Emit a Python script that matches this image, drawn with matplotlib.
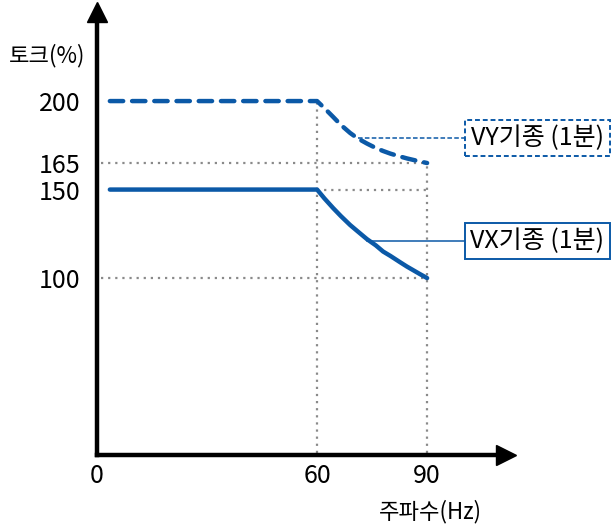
import matplotlib
matplotlib.use("Agg")
import matplotlib.pyplot as plt
from matplotlib.patches import Rectangle

# data
freq_vx = [3.5, 60, 62, 64.4, 66.5, 69, 71, 73.6, 76, 78, 80, 82.6, 84.5, 88, 90]
torque_vx = [150, 150, 145, 139.5, 135, 130, 126.5, 122, 118.5, 115, 112.5,
             109, 106.5, 102.3, 100]
freq_vy = [3.5, 60, 62, 64.4, 66.5, 69, 71, 73.6, 76, 78, 80, 82.6, 84.5, 88, 90]
torque_vy = [200, 200, 196, 191, 186.5, 182, 179, 176, 173.5, 171.8, 170.3,
             168.7, 167.6, 165.9, 165]

x_ticks = [0, 60, 90]
x_tick_labels = ["0", "60", "90"]
y_ticks = [100, 150, 165, 200]
y_tick_labels = ["100", "150", "165", "200"]

BLUE = "#0b59a7"
INK = "#000000"
GREY = "#8a8a8a"
FONT = ["Noto Sans CJK KR", "DejaVu Sans"]

fig = plt.figure(figsize=(6.16, 5.28), dpi=100)
ax = fig.add_axes([0, 0, 1, 1])
ax.set_xlim(-26.45, 141.5)
ax.set_ylim(-41.2, 257.1)
ax.set_facecolor("white")

# axes drawn as spines through the origin
for side in ("top", "right"):
    ax.spines[side].set_visible(False)
ax.spines["left"].set_position(("data", 0))
ax.spines["bottom"].set_position(("data", 0))
ax.spines["left"].set_bounds(0, 247)
ax.spines["bottom"].set_bounds(0, 109)
for side in ("left", "bottom"):
    ax.spines[side].set_linewidth(3.2)
    ax.spines[side].set_color(INK)
    ax.spines[side].set_capstyle("projecting")
ax.plot([0], [250.5], marker="^", markersize=14, color=INK, clip_on=False)
ax.plot([111.5], [0], marker=">", markersize=14, color=INK, clip_on=False)

ax.set_xticks(x_ticks, x_tick_labels)
ax.set_yticks(y_ticks, y_tick_labels)
ax.tick_params(length=0, labelsize=18)
ax.tick_params(axis="y", pad=12)
ax.tick_params(axis="x", pad=6)
for lab in ax.get_xticklabels() + ax.get_yticklabels():
    lab.set_family(FONT)

# dotted guide lines
dot = dict(color=GREY, linestyle=(0, (1, 2.2)), linewidth=1.6, zorder=1)
ax.plot([1, 90], [165, 165], **dot)
ax.plot([60, 90], [150, 150], **dot)
ax.plot([1, 90], [100, 100], **dot)
ax.plot([60, 60], [1, 200], **dot)
ax.plot([90, 90], [1, 165], **dot)

# curves
ax.plot(freq_vy, torque_vy, color=BLUE, linewidth=3.2, linestyle=(0, (3.0, 2.0)),
        solid_capstyle="round", dash_capstyle="round", zorder=3)
ax.plot(freq_vx, torque_vx, color=BLUE, linewidth=3.2, solid_capstyle="round",
        zorder=3)

# callouts
box_w, box_h = 39.5, 20.3
ax.plot([71.2, 100.3], [179, 179], color=BLUE, linewidth=1.1,
        linestyle=(0, (3, 1.5)), zorder=2)
ax.plot([73.6, 100.3], [121, 121], color=BLUE, linewidth=1.1, zorder=2)
ax.add_patch(Rectangle((100.3, 179 - box_h / 2), box_w, box_h, facecolor="white",
                       edgecolor=BLUE, linewidth=1.4, linestyle=(0, (2.5, 1.5)),
                       clip_on=False, zorder=4))
ax.add_patch(Rectangle((100.3, 121 - box_h / 2), box_w, box_h, facecolor="white",
                       edgecolor=BLUE, linewidth=1.4, clip_on=False, zorder=4))
ax.text(100.3 + box_w / 2, 179, "VY기종 (1분)", ha="center", va="center",
        fontsize=18, family=FONT, color=INK, zorder=5)
ax.text(100.3 + box_w / 2, 121, "VX기종 (1분)", ha="center", va="center",
        fontsize=18, family=FONT, color=INK, zorder=5)

# axis titles
ax.text(-13.5, 225.5, "토크(%)", ha="center", va="center", fontsize=16,
        family=FONT, color=INK)
ax.text(91, -32, "주파수(Hz)", ha="center", va="center", fontsize=16,
        family=FONT, color=INK)

fig.savefig("out.png", dpi=100, facecolor="white")
